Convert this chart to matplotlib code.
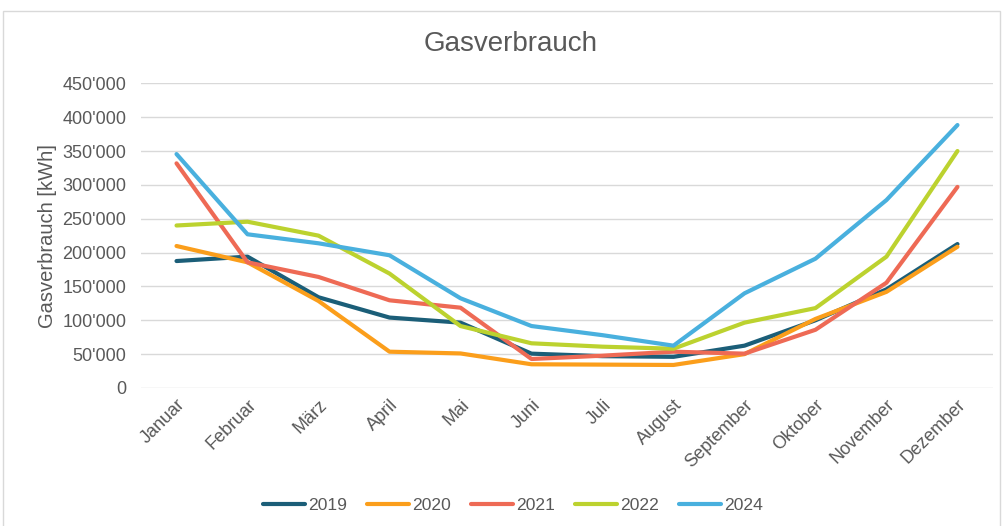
import matplotlib.pyplot as plt
from matplotlib.patches import Rectangle
from matplotlib.ticker import FuncFormatter

plt.rcParams['font.family'] = ['Liberation Sans', 'DejaVu Sans']

# Monate und Verbrauch in kWh
months = ["Januar", "Februar", "März", "April", "Mai", "Juni", "Juli",
          "August", "September", "Oktober", "November", "Dezember"]
years = ["2019", "2020", "2021", "2022", "2024"]
gas_2019 = [187500, 194000, 134000, 104000, 96500, 50700, 47000, 46000, 62500, 100000, 145700, 212600]
gas_2020 = [209700, 185600, 128500, 53600, 51000, 35000, 34500, 34000, 50000, 102000, 142000, 208600]
gas_2021 = [331800, 185600, 164000, 129500, 118600, 42800, 47700, 53600, 50700, 86000, 155500, 297000]
gas_2022 = [240000, 245600, 225000, 169000, 91500, 66000, 61000, 58000, 96500, 118000, 194000, 350000]
gas_2024 = [345500, 227000, 213700, 196000, 132500, 91500, 78000, 62500, 139800, 191000, 277600, 388400]
colors = ["#1b5e78", "#fb9e1b", "#ee6a55", "#bcd22f", "#49b0de"]

series = [gas_2019, gas_2020, gas_2021, gas_2022, gas_2024]

fig = plt.figure(figsize=(10.03, 5.26), dpi=100)
ax = fig.add_axes([0.1406, 0.2624, 0.8494, 0.5792])

# Rahmen um das Diagramm
fig.patches.append(Rectangle((0.003, -0.01), 0.994, 0.99, transform=fig.transFigure,
                             fill=False, edgecolor="#d9d9d9", linewidth=1))

x = list(range(len(months)))
for year, vals, col in zip(years, series, colors):
    ax.plot(x, vals, color=col, linewidth=3, label=year, solid_capstyle="round")

ax.set_xlim(-0.5, len(months) - 0.5)
ax.set_ylim(0, 450000)
ax.set_yticks(range(0, 450001, 50000))
ax.yaxis.set_major_formatter(FuncFormatter(lambda v, p: f"{int(v):,}".replace(",", "'")))
ax.set_xticks(x)
ax.set_xticklabels(months, rotation=45, ha="right", rotation_mode="anchor")
ax.tick_params(length=0, labelsize=13, colors="#595959")
ax.tick_params(axis="x", pad=6)
ax.tick_params(axis="y", pad=10.5)
ax.grid(axis="y", color="#d9d9d9", linewidth=1)
ax.set_axisbelow(True)
for s in ax.spines.values():
    s.set_visible(False)

ax.set_ylabel("Gasverbrauch [kWh]", fontsize=14.5, color="#595959", labelpad=4)
fig.text(0.509, 0.916, "Gasverbrauch", ha="center", va="center", fontsize=20, color="#595959")

fig.legend(loc="center", bbox_to_anchor=(0.5115, 0.0386), ncol=5, frameon=False,
           fontsize=12.6, handlelength=2.4, handletextpad=0.17, columnspacing=1.15,
           labelcolor="#595959")

plt.savefig("out.png", dpi=100)
plt.close()
